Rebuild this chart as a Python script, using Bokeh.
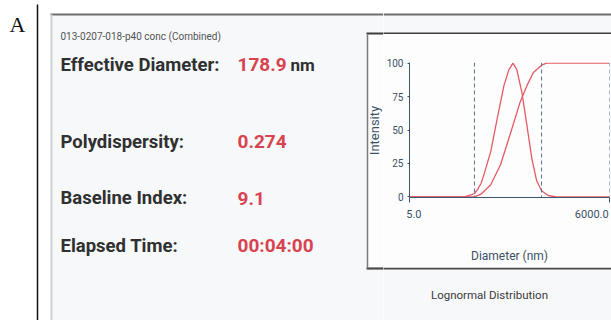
import math
from bokeh.plotting import figure
from bokeh.layouts import row, column
from bokeh.models import Range1d, FixedTicker, Span, LogAxis
from bokeh.core.properties import value
from bokeh.embed import file_html
from bokeh.resources import INLINE

# ---------------- data ----------------
panel_letter = "A"
sample_name = "013-0207-018-p40 conc (Combined)"
field_labels = ["Effective Diameter:", "Polydispersity:", "Baseline Index:", "Elapsed Time:"]
field_values = ["178.9", "0.274", "9.1", "00:04:00"]
diameter_unit = "nm"
chart_title = "Lognormal Distribution"
x_label = "Diameter (nm)"
y_label = "Intensity"

dist_diameter = [5, 35, 44, 50, 56, 63, 70, 89, 112, 142, 169, 196, 225, 269, 320, 381, 454, 540, 683, 912, 6000]
dist_intensity = [0, 0, 1.5, 2.5, 5.6, 10, 16.6, 33.8, 58.5, 83, 95, 100, 95, 78, 54, 29, 12, 4.5, 1, 0, 0]
cum_diameter = [5, 50, 63, 89, 126, 178, 253, 320, 404, 540, 643, 6000]
cum_intensity = [0, 0, 2, 9, 24, 47, 71, 83, 93, 98.5, 100, 100]
bound_diameters = [50, 540, 6000]
x_ticks = [5, 6000]
x_tick_labels = ["5.0", "6000.0"]
y_ticks = [0, 25, 50, 75, 100]

# ---------------- styles / positions ----------------
SANS = "Roboto"
PANEL = "#f6f8fa"
BOX = "#fdfdfd"
RED_TXT = "#d8434f"
DARK_TXT = "#303030"
RED_LINE = "#e35a65"
AXIS_C = "#3d566b"
TICK_TXT = "#3b5166"
x_label_anchor = [5.85, 3200]   # where the end labels sit (the original aligns them inward)
SPLIT = 383                      # page x where the chart column starts

def plain(w, h, xr, yr):
    f = figure(width=w, height=h, x_range=Range1d(*xr), y_range=Range1d(*yr),
               output_backend="svg", toolbar_location=None, min_border=0,
               x_axis_location=None, y_axis_location=None)
    f.grid.visible = False
    f.outline_line_color = None
    f.background_fill_color = "white"
    f.border_fill_color = "white"
    return f

# ---- left part (page x 0..SPLIT, y 0..320) ----
f1 = plain(SPLIT, 320, (0, SPLIT), (320, 0))
f1.quad(left=50, right=SPLIT, top=14, bottom=320, fill_color=PANEL, line_color=None)
f1.quad(left=367, right=SPLIT, top=34, bottom=267, fill_color=BOX, line_color=None)
f1.segment(x0=50, y0=14, x1=SPLIT, y1=14, line_color="#6e6e6e", line_width=2)
f1.segment(x0=51, y0=14, x1=51, y1=320, line_color="#cfd2d4", line_width=2)
f1.segment(x0=37, y0=4, x1=37, y1=320, line_color="#111111", line_width=1.5)
f1.segment(x0=366, y0=33, x1=SPLIT, y1=33, line_color="#3c3c3c", line_width=2.2)
f1.segment(x0=366, y0=268, x1=SPLIT, y1=268, line_color="#4a4a4a", line_width=2.2)
f1.segment(x0=367, y0=34, x1=367, y1=268, line_color="#7a7a7a", line_width=1.5)

f1.text(x=[9], y=[24], text=[panel_letter], text_font=value("Liberation Serif"),
        text_font_size="22px", text_color="#111111", text_baseline="middle")
f1.text(x=[60], y=[36], text=[sample_name], text_font=value(SANS),
        text_font_size="10px", text_color="#555555", text_baseline="middle")
rows_y = [64, 141, 197.5, 245]
f1.text(x=[60] * 4, y=rows_y, text=field_labels, text_font=value(SANS),
        text_font_style="bold", text_font_size="18.5px", text_color=DARK_TXT,
        text_baseline="middle")
f1.text(x=[237] * 4, y=rows_y, text=field_values, text_font=value(SANS),
        text_font_style="bold", text_font_size="19px", text_color=RED_TXT,
        text_baseline="middle")
f1.text(x=[290], y=[64], text=[diameter_unit], text_font=value(SANS),
        text_font_style="bold", text_font_size="17px", text_color=DARK_TXT,
        text_baseline="middle")
f1.text(x=[374], y=[130], text=[y_label], angle=math.pi / 2, text_font=value(SANS),
        text_font_size="13px", text_color=TICK_TXT, text_align="center",
        text_baseline="middle")

# ---- strip above chart box (page x SPLIT..611, y 0..34) ----
ft = plain(611 - SPLIT, 34, (SPLIT, 611), (34, 0))
ft.quad(left=SPLIT, right=611, top=14, bottom=34, fill_color=PANEL, line_color=None)
ft.segment(x0=SPLIT, y0=14, x1=611, y1=14, line_color="#6e6e6e", line_width=2)
ft.segment(x0=SPLIT - 2, y0=33, x1=611, y1=33, line_color="#3c3c3c", line_width=2.2)

# ---- strip below chart box (page x SPLIT..611, y 267..320) ----
fb = plain(611 - SPLIT, 53, (SPLIT, 611), (320, 267))
fb.quad(left=SPLIT, right=611, top=267, bottom=320, fill_color=PANEL, line_color=None)
fb.segment(x0=SPLIT - 2, y0=268, x1=611, y1=268, line_color="#4a4a4a", line_width=2.2)
fb.text(x=[489], y=[294], text=[chart_title], text_font=value(SANS),
        text_font_size="11.5px", text_color="#3a3a3a", text_align="center",
        text_baseline="middle")

# ---- chart (page x SPLIT..611, y 34..267), frame 406..609 x 62..197 ----
f2 = figure(width=611 - SPLIT, height=233, x_axis_type="log",
            x_range=Range1d(5, 6000), y_range=Range1d(-0.5, 100.5),
            output_backend="svg", toolbar_location=None,
            min_border_left=406 - SPLIT, min_border_right=2,
            min_border_top=28, min_border_bottom=70)
f2.grid.visible = False
f2.outline_line_color = None
f2.background_fill_color = BOX
f2.border_fill_color = BOX

for d in bound_diameters:
    f2.add_layout(Span(location=d, dimension="height", line_color="#55728a",
                       line_dash="4 3", line_width=1))

f2.line(dist_diameter, dist_intensity, line_color=RED_LINE, line_width=1.3)
f2.line(cum_diameter, cum_intensity, line_color=RED_LINE, line_width=1.3)

# axis carrying the tick marks at the range ends
xa = f2.xaxis[0]
xa.ticker = FixedTicker(ticks=x_ticks)
xa.major_label_text_font_size = "1px"
xa.major_label_text_alpha = 0
xa.major_label_standoff = 0
xa.major_tick_out = 5
xa.major_tick_in = 0
xa.axis_line_color = AXIS_C
xa.major_tick_line_color = AXIS_C

# axis carrying the end labels and the axis title
xl = LogAxis(ticker=FixedTicker(ticks=x_label_anchor),
             major_label_overrides={x_label_anchor[0]: x_tick_labels[0],
                                    x_label_anchor[1]: x_tick_labels[1]})
xl.axis_line_color = None
xl.major_tick_line_color = None
xl.major_tick_out = 0
xl.major_tick_in = 0
xl.major_label_standoff = 7
xl.major_label_text_font = SANS
xl.major_label_text_font_size = "11px"
xl.major_label_text_color = TICK_TXT
xl.axis_label = x_label
xl.axis_label_text_font = SANS
xl.axis_label_text_font_style = "normal"
xl.axis_label_text_font_size = "12px"
xl.axis_label_text_color = TICK_TXT
xl.axis_label_standoff = 28
f2.add_layout(xl, "below")

ya = f2.yaxis[0]
ya.ticker = FixedTicker(ticks=y_ticks)
ya.major_tick_out = 2
ya.major_tick_in = 0
ya.major_label_standoff = 4
ya.major_label_text_font = SANS
ya.major_label_text_font_size = "10px"
ya.major_label_text_color = TICK_TXT
ya.axis_line_color = AXIS_C
ya.major_tick_line_color = AXIS_C

layout = row(f1, column(column(ft), f2, column(fb), spacing=0), spacing=0)
open("out.html", "w").write(file_html(layout, INLINE))
